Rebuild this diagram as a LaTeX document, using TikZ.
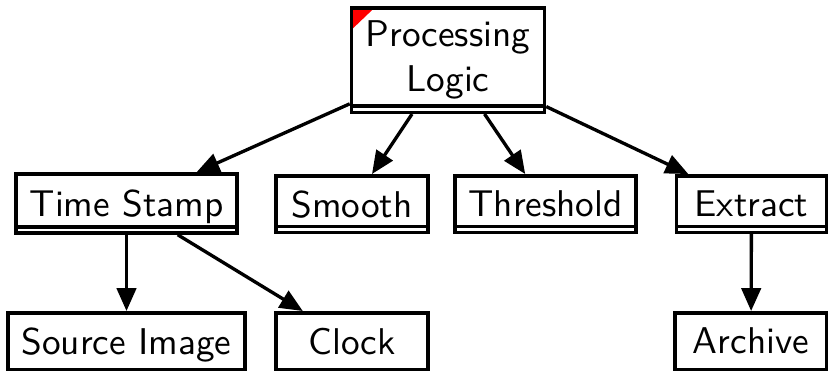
\documentclass[tikz,border=0pt]{standalone}
\usetikzlibrary{arrows.meta}

\tikzset{
  box/.style = {draw, line width = 1pt, inner sep = 0pt,
    font = \fontsize{10.6}{12.8}\selectfont\sffamily},
  leaf/.style = {box, text depth = 0pt, minimum height = 0.565cm},
  stack/.style = {leaf,
    path picture = {
      \draw [line width = 1pt]
        ([yshift = 0.06cm]path picture bounding box.south west) --
        ([yshift = 0.06cm]path picture bounding box.south east);
    }},
  root/.style = {box, align = center,
    path picture = {
      \fill [red]
        (path picture bounding box.north west) --
        ++(0.23, 0) --
        ++(-0.23, -0.22) --
        cycle;
      \draw [line width = 1pt]
        ([yshift = 0.065cm]path picture bounding box.south west) --
        ([yshift = 0.065cm]path picture bounding box.south east);
    }},
  link/.style = {-{Triangle[length = 6.5pt, width = 5.5pt]}, line width = 0.95pt}
}

\begin{document}
\begin{tikzpicture}
  \useasboundingbox (0, 0) rectangle (8.28, 3.71);

  % top
  % ---
  \node [root, minimum width = 1.93cm, minimum height = 1.045cm]
    (logic) at (4.48, 3.11) {Processing\\Logic};

  % middle row
  % ----------
  \node [stack, minimum width = 2.21cm, minimum height = 0.59cm]
    (stamp) at (1.265, 1.675) {Time Stamp};
  \node [stack, minimum width = 1.52cm] (smooth) at (3.52, 1.67) {Smooth};
  \node [stack, minimum width = 1.81cm] (threshold) at (5.455, 1.67) {Threshold};
  \node [stack, minimum width = 1.50cm] (extract) at (7.515, 1.67) {Extract};

  % bottom row
  % ----------
  \node [leaf, minimum width = 2.37cm] (source) at (1.265, 0.30) {Source Image};
  \node [leaf, minimum width = 1.52cm] (clock) at (3.52, 0.30) {Clock};
  \node [leaf, minimum width = 1.52cm] (archive) at (7.51, 0.30) {Archive};

  % links
  % -----
  \draw [link] (logic) -- (stamp);
  \draw [link] (logic) -- (smooth);
  \draw [link] (logic) -- (threshold);
  \draw [link] (logic) -- (extract);
  \draw [link] (stamp) -- (source);
  \draw [link] (stamp) -- (clock);
  \draw [link] (extract) -- (archive);
\end{tikzpicture}
\end{document}
